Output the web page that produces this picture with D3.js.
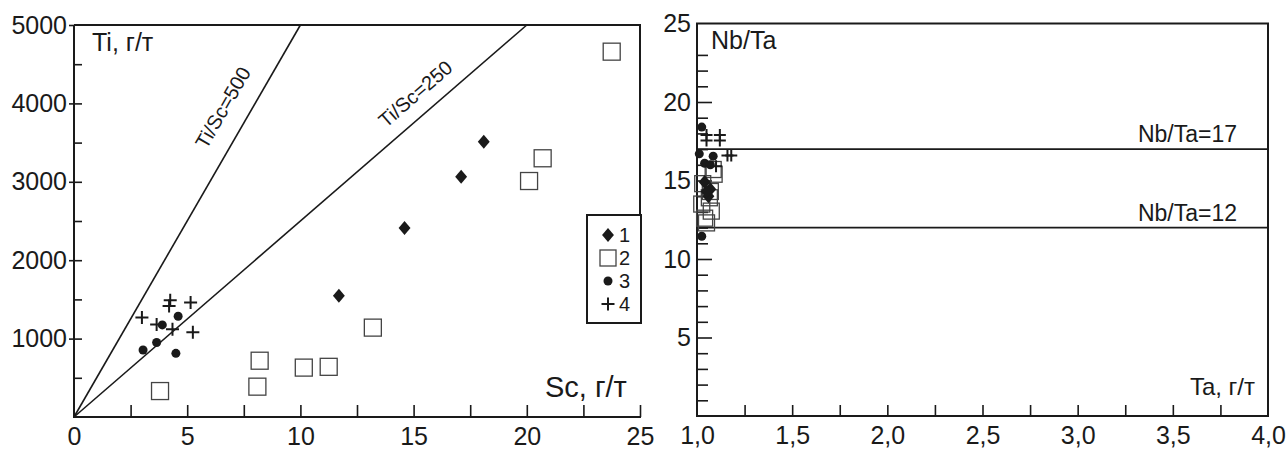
<!DOCTYPE html>
<html>
<head>
<meta charset="utf-8">
<script src="https://cdn.jsdelivr.net/npm/d3@7"></script>
<style>
  body { margin: 0; background: #fff; }
  svg text { font-family: "Liberation Sans", Arial, sans-serif; fill: #1a1a1a; }
</style>
</head>
<body>
<svg id="chart" width="1286" height="450"></svg>
<script>
// left panel: Sc (x) vs Ti (y), г/т
const sc1 = [18.1, 17.1, 14.6, 11.7];
const ti1 = [3510, 3065, 2410, 1545];
const sc2 = [23.75, 20.7, 20.1, 13.2, 11.25, 10.15, 8.2, 8.1, 3.8];
const ti2 = [4660, 3300, 3010, 1140, 640, 630, 718, 387, 331];
const sc3 = [3.05, 3.65, 3.9, 4.6, 4.5];
const ti3 = [855, 950, 1175, 1285, 812];
const sc4 = [3.0, 4.25, 4.2, 5.15, 3.65, 4.35, 5.25];
const ti4 = [1270, 1490, 1415, 1460, 1180, 1120, 1080];
const leftXTicks = [0, 5, 10, 15, 20, 25];
const leftYTicks = [1000, 2000, 3000, 4000, 5000];
const ratioLines = [500, 250];

// right panel: Ta (x) vs Nb/Ta (y)
const ta1 = [1.04, 1.07, 1.06, 1.05];
const nb1 = [14.9, 14.45, 14.0, 14.3];
const ta2 = [1.09, 1.07, 1.065, 1.075, 1.04, 1.03, 1.05, 1.085, 1.025];
const nb2 = [15.4, 14.3, 13.9, 13.05, 12.6, 14.8, 12.3, 15.7, 13.5];
const ta3 = [1.025, 1.012, 1.085, 1.04, 1.07, 1.025];
const nb3 = [18.4, 16.7, 16.55, 16.1, 16.0, 11.45];
const ta4 = [1.05, 1.05, 1.12, 1.12, 1.16, 1.18, 1.1];
const nb4 = [17.9, 17.55, 17.9, 17.55, 16.6, 16.6, 15.9];
const rightXTicks = ["1,0", "1,5", "2,0", "2,5", "3,0", "3,5", "4,0"];
const rightYTicks = [5, 10, 15, 20, 25];
const nbLines = [17, 12];

const legendLabels = ["1", "2", "3", "4"];

const ink = "#1a1a1a";
const svg = d3.select("#chart");

function zip(a, b) { return a.map((v, i) => [v, b[i]]); }

function drawMark(g, kind, x, y, s) {
    if (kind === 1) {
        const w = s * 0.85, h = s;
        g.append("path")
            .attr("d", `M${x},${y - h / 2}L${x + w / 2},${y}L${x},${y + h / 2}L${x - w / 2},${y}Z`)
            .attr("fill", ink);
    } else if (kind === 2) {
        g.append("rect")
            .attr("x", x - s / 2).attr("y", y - s / 2)
            .attr("width", s).attr("height", s)
            .attr("fill", "none").attr("stroke", "#444").attr("stroke-width", 1.3);
    } else if (kind === 3) {
        g.append("circle").attr("cx", x).attr("cy", y).attr("r", s / 2).attr("fill", ink);
    } else {
        g.append("path")
            .attr("d", `M${x - s / 2},${y}H${x + s / 2}M${x},${y - s / 2}V${y + s / 2}`)
            .attr("stroke", ink).attr("stroke-width", 2);
    }
}

// ---------- left panel ----------
const xL = d3.scaleLinear().domain([0, 25]).range([74, 640]);
const yL = d3.scaleLinear().domain([0, 5000]).range([417, 25]);
const gL = svg.append("g");

// ratio lines Ti/Sc = k, from origin to top edge
ratioLines.forEach(k => {
    gL.append("line")
        .attr("x1", xL(0)).attr("y1", yL(0))
        .attr("x2", xL(5000 / k)).attr("y2", yL(5000))
        .attr("stroke", ink).attr("stroke-width", 1.6);
});
const ang500 = Math.atan2(yL(0) - yL(5000), xL(10) - xL(0)) * 180 / Math.PI;
const ang250 = Math.atan2(yL(0) - yL(5000), xL(20) - xL(0)) * 180 / Math.PI;
gL.append("text").attr("transform", `translate(229,111) rotate(${-ang500})`)
    .attr("text-anchor", "middle").attr("font-size", 20).text("Ti/Sc=500");
gL.append("text").attr("transform", `translate(420,99) rotate(${-ang250})`)
    .attr("text-anchor", "middle").attr("font-size", 20).text("Ti/Sc=250");

// frame: top, left, right (down to legend), bottom
gL.append("path")
    .attr("d", `M${xL(0)},${yL(5000)}H640V323M${xL(0)},${yL(5000)}V${yL(0)}H641`)
    .attr("fill", "none").attr("stroke", ink).attr("stroke-width", 2);

// y ticks
gL.append("g").attr("transform", `translate(${xL(0)},0)`)
    .call(d3.axisRight(yL).tickValues(d3.range(500, 5000, 500)).tickSize(8).tickFormat(""))
    .call(g => g.select(".domain").remove())
    .call(g => g.selectAll("line").attr("stroke", ink).attr("stroke-width", 1.6));
gL.append("g").attr("transform", `translate(${xL(0)},0)`)
    .call(d3.axisLeft(yL).tickValues(leftYTicks).tickSize(5).tickPadding(2).tickFormat(d3.format("d")))
    .call(g => g.select(".domain").remove())
    .call(g => g.selectAll("line").attr("stroke", ink).attr("stroke-width", 1.6))
    .call(g => g.selectAll("text").attr("font-size", 25).attr("fill", ink));

// x ticks (inward) and labels
gL.append("g").attr("transform", `translate(0,${yL(0)})`)
    .call(d3.axisTop(xL).tickValues(d3.range(2.5, 25.1, 2.5)).tickSize(12).tickFormat(""))
    .call(g => g.select(".domain").remove())
    .call(g => g.selectAll("line").attr("stroke", ink).attr("stroke-width", 1.6));
gL.append("g").attr("transform", `translate(0,${yL(0)})`)
    .call(d3.axisBottom(xL).tickValues(leftXTicks).tickSize(0).tickPadding(10))
    .call(g => g.select(".domain").remove())
    .call(g => g.selectAll("text").attr("font-size", 25).attr("fill", ink));

gL.append("text").attr("x", 92).attr("y", 51).attr("font-size", 25).text("Ti, г/т");
gL.append("text").attr("x", 545).attr("y", 397).attr("font-size", 29).text("Sc, г/т");

// points
const ptsL = gL.append("g");
zip(sc2, ti2).forEach(d => drawMark(ptsL, 2, xL(d[0]), yL(d[1]), 17));
zip(sc1, ti1).forEach(d => drawMark(ptsL, 1, xL(d[0]), yL(d[1]), 14));
zip(sc3, ti3).forEach(d => drawMark(ptsL, 3, xL(d[0]), yL(d[1]), 9));
zip(sc4, ti4).forEach(d => drawMark(ptsL, 4, xL(d[0]), yL(d[1]), 13));

// legend
const lg = gL.append("g");
lg.append("rect").attr("x", 587).attr("y", 215).attr("width", 54).attr("height", 108)
    .attr("fill", "#fff").attr("stroke", ink).attr("stroke-width", 2);
const legendSizes = [14, 16, 9, 13];
legendLabels.forEach((t, i) => {
    const cy = 235 + i * 23;
    drawMark(lg, i + 1, 608, cy, legendSizes[i]);
    lg.append("text").attr("x", 619).attr("y", cy + 7).attr("font-size", 20).text(t);
});

// ---------- right panel ----------
const xR = d3.scaleLinear().domain([1, 4]).range([697, 1268]);
const yR = d3.scaleLinear().domain([0, 25]).range([416, 23.5]);
const gR = svg.append("g");

gR.append("rect").attr("x", xR(1)).attr("y", yR(25))
    .attr("width", xR(4) - xR(1)).attr("height", yR(0) - yR(25))
    .attr("fill", "none").attr("stroke", ink).attr("stroke-width", 2);

nbLines.forEach(v => {
    gR.append("line").attr("x1", xR(1)).attr("x2", xR(4))
        .attr("y1", yR(v)).attr("y2", yR(v))
        .attr("stroke", ink).attr("stroke-width", 1.6);
    gR.append("text").attr("x", 1237).attr("y", yR(v) - 7)
        .attr("text-anchor", "end").attr("font-size", 23).text("Nb/Ta=" + v);
});

// y ticks: minor every 1, major every 5
const minorY = d3.range(1, 24).filter(v => v % 5 !== 0);
gR.append("g").attr("transform", `translate(${xR(1)},0)`)
    .call(d3.axisRight(yR).tickValues(minorY).tickSize(11).tickFormat(""))
    .call(g => g.select(".domain").remove())
    .call(g => g.selectAll("line").attr("stroke", ink).attr("stroke-width", 1.6));
gR.append("g").attr("transform", `translate(${xR(1)},0)`)
    .call(d3.axisRight(yR).tickValues([5, 10, 15, 20]).tickSize(15).tickFormat(""))
    .call(g => g.select(".domain").remove())
    .call(g => g.selectAll("line").attr("stroke", ink).attr("stroke-width", 1.6));
gR.append("g").attr("transform", `translate(${xR(1)},0)`)
    .call(d3.axisLeft(yR).tickValues(rightYTicks).tickSize(0).tickPadding(6))
    .call(g => g.select(".domain").remove())
    .call(g => g.selectAll("text").attr("font-size", 25).attr("fill", ink));

// x ticks
gR.append("g").attr("transform", `translate(0,${yR(0)})`)
    .call(d3.axisTop(xR).tickValues(d3.range(1.25, 4, 0.25)).tickSize(11).tickFormat(""))
    .call(g => g.select(".domain").remove())
    .call(g => g.selectAll("line").attr("stroke", ink).attr("stroke-width", 1.6));
gR.append("g").attr("transform", `translate(0,${yR(0)})`)
    .call(d3.axisBottom(xR).tickValues(d3.range(1, 4.01, 0.5)).tickSize(0).tickPadding(10)
        .tickFormat((d, i) => rightXTicks[i]))
    .call(g => g.select(".domain").remove())
    .call(g => g.selectAll("text").attr("font-size", 25).attr("fill", ink));

gR.append("text").attr("x", 711).attr("y", 49).attr("font-size", 25).text("Nb/Ta");
gR.append("text").attr("x", 1255).attr("y", 395).attr("text-anchor", "end")
    .attr("font-size", 24).text("Ta, г/т");

const ptsR = gR.append("g");
zip(ta2, nb2).forEach(d => drawMark(ptsR, 2, xR(d[0]), yR(d[1]), 16));
zip(ta1, nb1).forEach(d => drawMark(ptsR, 1, xR(d[0]), yR(d[1]), 14));
zip(ta3, nb3).forEach(d => drawMark(ptsR, 3, xR(d[0]), yR(d[1]), 9));
zip(ta4, nb4).forEach(d => drawMark(ptsR, 4, xR(d[0]), yR(d[1]), 12));
</script>
</body>
</html>
